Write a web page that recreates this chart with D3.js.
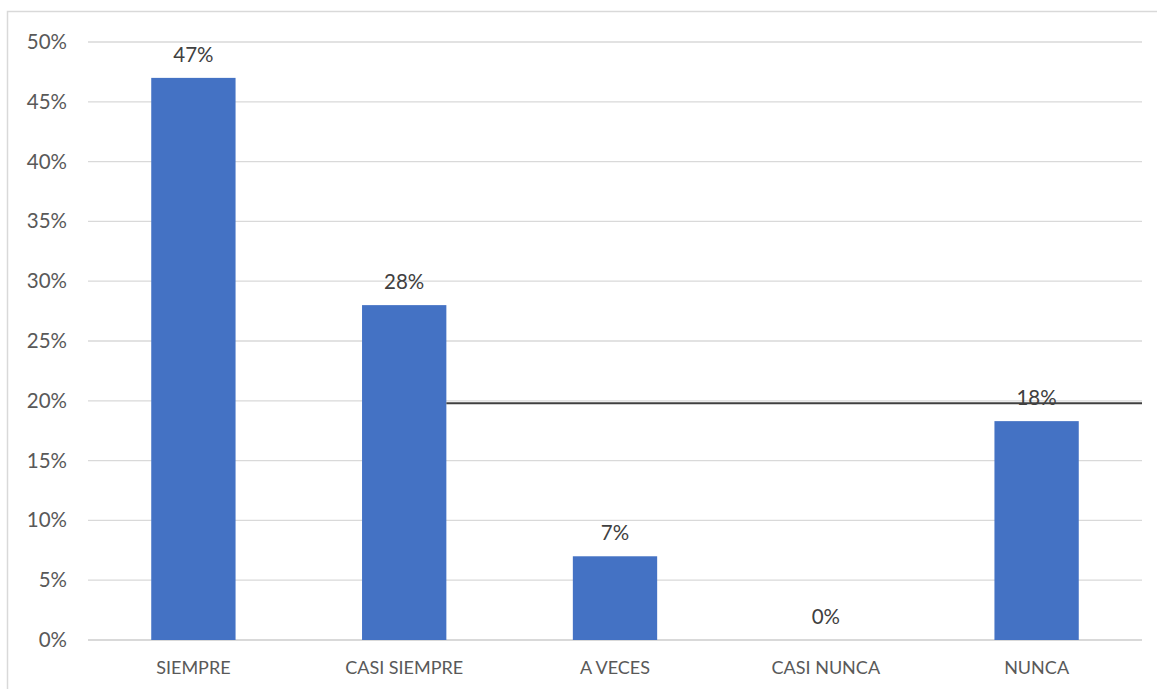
<!DOCTYPE html>
<html>
<head>
<meta charset="utf-8">
<script src="https://cdn.jsdelivr.net/npm/d3@7"></script>
<style>
  body { margin: 0; background: #fff; }
  text { font-family: Lato, "Open Sans", sans-serif; }
</style>
</head>
<body>
<svg class="chart" width="1157" height="689"></svg>
<script>
const categories = ['SIEMPRE', 'CASI SIEMPRE', 'A VECES', 'CASI NUNCA', 'NUNCA']
const values = [47, 28, 7, 0, 18.3]
const valueLabels = ['47%', '28%', '7%', '0%', '18%']
const yTicks = [0, 5, 10, 15, 20, 25, 30, 35, 40, 45, 50]
const refValue = 19.8

const svg = d3.select('.chart')
const width = +svg.attr('width')
const height = +svg.attr('height')

// chart border (right and bottom run off the picture)
svg.append('rect')
  .attr('x', 7.5).attr('y', 11.5)
  .attr('width', width + 10).attr('height', height + 10)
  .attr('fill', 'none')
  .attr('stroke', '#d9d9d9')
  .attr('stroke-width', 1.5)

const plotLeft = 88, plotRight = 1142, plotTop = 42, plotBottom = 640

const x = d3.scaleBand()
  .domain(categories)
  .range([plotLeft, plotRight])
  .paddingInner(0.6)
  .paddingOuter(0.3)

const y = d3.scaleLinear()
  .domain([0, 50])
  .range([plotBottom, plotTop])

// gridlines
svg.append('g')
  .selectAll('line')
  .data(yTicks)
  .join('line')
  .attr('x1', plotLeft).attr('x2', plotRight)
  .attr('y1', d => y(d)).attr('y2', d => y(d))
  .attr('stroke', '#d9d9d9')
  .attr('stroke-width', d => d === 0 ? 2 : 1.3)

// y axis labels
const yAxis = svg.append('g')
  .attr('transform', `translate(${plotLeft - 21},0)`)
  .call(d3.axisLeft(y).tickValues(yTicks).tickFormat(d => d + '%').tickSize(0))
yAxis.select('.domain').remove()
yAxis.selectAll('text')
  .attr('x', 0)
  .attr('fill', '#595959')
  .style('font-size', '20.5px')

// x axis labels
const xAxis = svg.append('g')
  .attr('transform', `translate(0,${plotBottom + 20})`)
  .call(d3.axisBottom(x).tickSize(0))
xAxis.select('.domain').remove()
xAxis.selectAll('text')
  .attr('y', 0)
  .attr('dy', '0.75em')
  .attr('fill', '#595959')
  .style('font-size', '18px')

// bars
svg.append('g')
  .selectAll('rect')
  .data(values)
  .join('rect')
  .attr('x', (d, i) => x(categories[i]))
  .attr('y', d => y(d))
  .attr('width', x.bandwidth())
  .attr('height', d => y(0) - y(d))
  .attr('fill', '#4472c4')

// stray reference line
svg.append('line')
  .attr('x1', x(categories[1]) + x.bandwidth())
  .attr('x2', plotRight)
  .attr('y1', y(refValue)).attr('y2', y(refValue))
  .attr('stroke', '#404040')
  .attr('stroke-width', 2)

// data labels
svg.append('g')
  .selectAll('text')
  .data(values)
  .join('text')
  .attr('x', (d, i) => x(categories[i]) + x.bandwidth() / 2)
  .attr('y', d => y(d) - 23)
  .attr('dy', '0.35em')
  .attr('text-anchor', 'middle')
  .attr('fill', '#404040')
  .style('font-size', '20.5px')
  .text((d, i) => valueLabels[i])
</script>
</body>
</html>
